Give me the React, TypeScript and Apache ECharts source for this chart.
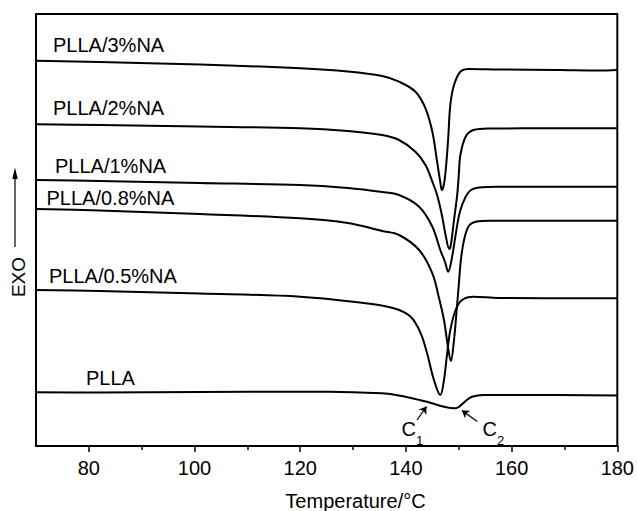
import React, { useEffect, useRef } from "react";
import * as echarts from "echarts";

// Temperature (°C) and heat-flow (arbitrary, EXO up) values
const tPLLA3 = [70, 82, 101, 120, 129, 135.5, 138.7, 141.8, 143.7, 145.0, 145.9, 146.5, 146.8, 147.2, 147.6, 148.0, 148.4, 149.1, 150.3, 151.9, 157.5, 169, 176.4, 180];
const vPLLA3 = [385.3, 384, 381.5, 377.7, 374.5, 370, 364.3, 354.3, 337.7, 314.3, 284.3, 264, 256, 262, 280, 307.7, 341, 361, 374.3, 377, 376.5, 376, 375.5, 376];

const tPLLA2 = [70, 82, 101, 120, 129, 135.5, 138.7, 141.8, 143.7, 145.0, 145.9, 146.8, 147.5, 148.2, 148.5, 149.1, 149.7, 150.0, 150.3, 151.3, 152.8, 155.7, 168, 180];
const vPLLA2 = [321.7, 321, 319.5, 317.7, 315, 311, 306, 294.3, 281, 264.3, 251, 231, 211, 197, 201, 226, 251, 271, 291, 309.3, 316, 317.5, 317.7, 317.7];

const tPLLA1 = [70, 82, 101, 120, 129, 135.5, 138.7, 142.5, 145.0, 146.5, 147.4, 148.0, 148.7, 149.4, 150.2, 151.3, 152.3, 153.8, 157.5, 180];
const vPLLA1 = [266, 265, 263, 261, 258, 254, 251, 239.3, 219.3, 196, 184, 174.3, 188, 211, 234, 249.3, 256, 258.5, 259.3, 259.3];

const tPLLA08 = [70, 82, 101, 120, 129, 135.5, 138.7, 142.5, 145.0, 146.2, 147.2, 147.9, 148.5, 149.1, 149.6, 150.0, 150.4, 151.0, 151.9, 153.4, 155.7, 180];
const vPLLA08 = [237, 235.5, 232, 227.7, 223, 215, 211, 196, 172.7, 149.3, 126, 101, 85, 106, 136, 161, 186, 206, 220, 224.5, 225.3, 225.3];

const tPLLA05 = [70, 82, 101, 120, 132.4, 137.7, 140.9, 142.8, 144.0, 145.3, 146.5, 147.2, 147.8, 148.4, 149.4, 150.6, 152.8, 157.5, 180];
const vPLLA05 = [156, 155, 152.5, 149.3, 142.7, 137.7, 129.3, 112.7, 92.7, 66, 51, 66, 92.7, 116, 136, 146, 149.3, 148, 147.7];

const tPLLA = [70, 82, 101, 120, 125.5, 135.5, 138.1, 141.2, 144.0, 147.2, 149.4, 150.0, 151.3, 152.5, 154.7, 161.3, 180];
const vPLLA = [53.7, 53.5, 54, 54.3, 54.3, 52.7, 51, 47.7, 44.3, 39.3, 37.7, 39, 45, 49.3, 51, 51, 50.5];

const majorTicks = [80, 100, 120, 140, 160, 180];
const minorTicks = [90, 110, 130, 150, 170];

const FONT = "'Liberation Sans', Arial, Helvetica, sans-serif";

const pair = (ts: number[], vs: number[]) => ts.map((t, i) => [t, vs[i]]);

const curveLabels = [
  { text: "PLLA/3%NA", x: 53, y: 45 },
  { text: "PLLA/2%NA", x: 53, y: 107.5 },
  { text: "PLLA/1%NA", x: 55, y: 165.5 },
  { text: "PLLA/0.8%NA", x: 46.5, y: 197.5 },
  { text: "PLLA/0.5%NA", x: 49, y: 275.5 },
  { text: "PLLA", x: 86, y: 377.5 },
];

export default function App() {
  const ref = useRef<HTMLDivElement>(null);
  useEffect(() => {
    if (!ref.current) return;
    const chart = echarts.init(ref.current, undefined, { renderer: "svg" });
    const lineSeries = (name: string, data: number[][], extra: any = {}) => ({
      type: "line",
      name,
      data,
      showSymbol: false,
      smooth: 0.35,
      lineStyle: { color: "#000", width: 2 },
      itemStyle: { color: "#000" },
      silent: true,
      ...extra,
    });
    chart.setOption({
      animation: false,
      backgroundColor: "#fff",
      grid: {
        left: 36,
        right: 18,
        top: 14,
        bottom: 65,
        show: true,
        borderColor: "#000",
        borderWidth: 2,
        backgroundColor: "transparent",
      },
      xAxis: [
        {
          type: "value",
          min: 70,
          max: 180,
          interval: 10,
          position: "bottom",
          axisLine: { show: true, lineStyle: { color: "#000", width: 2 } },
          axisTick: {
            show: true,
            inside: false,
            length: 6,
            customValues: majorTicks,
            lineStyle: { color: "#000", width: 1.5 },
          },
          axisLabel: {
            show: true,
            customValues: majorTicks,
            color: "#000",
            fontSize: 20,
            fontFamily: FONT,
            margin: 12,
          },
          splitLine: { show: false },
        },
        {
          type: "value",
          min: 70,
          max: 180,
          interval: 10,
          position: "bottom",
          axisLine: { show: false },
          axisTick: {
            show: true,
            inside: false,
            length: 4,
            customValues: minorTicks,
            lineStyle: { color: "#000", width: 1.5 },
          },
          axisLabel: { show: false },
          splitLine: { show: false },
        },
      ],
      yAxis: {
        type: "value",
        min: 0,
        max: 432,
        show: false,
        splitLine: { show: false },
      },
      series: [
        lineSeries("PLLA/3%NA", pair(tPLLA3, vPLLA3)),
        lineSeries("PLLA/2%NA", pair(tPLLA2, vPLLA2)),
        lineSeries("PLLA/1%NA", pair(tPLLA1, vPLLA1)),
        lineSeries("PLLA/0.8%NA", pair(tPLLA08, vPLLA08)),
        lineSeries("PLLA/0.5%NA", pair(tPLLA05, vPLLA05)),
        lineSeries("PLLA", pair(tPLLA, vPLLA), {
          markLine: {
            silent: true,
            symbol: ["none", "arrow"],
            symbolSize: 7,
            label: { show: false },
            lineStyle: { color: "#000", width: 1.3, type: "solid" },
            data: [
              [{ coord: [142.1, 26] }, { coord: [143.9, 39.5] }],
              [{ coord: [153.5, 24.5] }, { coord: [150.6, 35.5] }],
            ],
          },
        }),
      ],
      graphic: [
        ...curveLabels.map((l) => ({
          type: "text",
          x: l.x,
          y: l.y,
          silent: true,
          style: {
            text: l.text,
            fill: "#000",
            font: `20px ${FONT}`,
            align: "left",
            verticalAlign: "middle",
          },
        })),
        {
          type: "text",
          x: 401.5,
          y: 429,
          style: { text: "C", fill: "#000", font: `20px ${FONT}`, align: "left", verticalAlign: "middle" },
        },
        {
          type: "text",
          x: 416,
          y: 440.5,
          style: { text: "1", fill: "#000", font: `13px ${FONT}`, align: "left", verticalAlign: "middle" },
        },
        {
          type: "text",
          x: 482.5,
          y: 429,
          style: { text: "C", fill: "#000", font: `20px ${FONT}`, align: "left", verticalAlign: "middle" },
        },
        {
          type: "text",
          x: 497,
          y: 440.5,
          style: { text: "2", fill: "#000", font: `13px ${FONT}`, align: "left", verticalAlign: "middle" },
        },
        {
          type: "text",
          x: 18.5,
          y: 277,
          rotation: Math.PI / 2,
          style: { text: "EXO", fill: "#000", font: `19px ${FONT}`, align: "center", verticalAlign: "middle" },
        },
        {
          type: "line",
          shape: { x1: 15, y1: 247, x2: 15, y2: 176 },
          style: { stroke: "#000", lineWidth: 1.2 },
        },
        {
          type: "polygon",
          shape: { points: [[15, 167.5], [12.3, 179], [17.7, 179]] },
          style: { fill: "#000" },
        },
        {
          type: "text",
          x: 355.5,
          y: 501,
          style: { text: "Temperature/°C", fill: "#000", font: `20px ${FONT}`, align: "center", verticalAlign: "middle" },
        },
      ],
    });
    return () => chart.dispose();
  }, []);
  return (
    <div
      ref={ref}
      style={{ position: "fixed", left: 0, top: 0, width: 637, height: 511, background: "#fff" }}
    />
  );
}
